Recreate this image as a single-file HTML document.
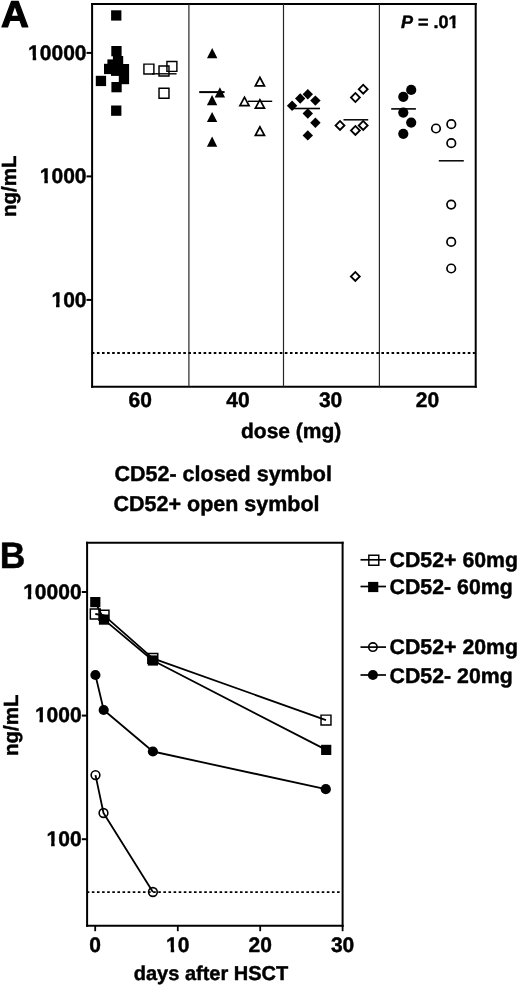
<!DOCTYPE html>
<html><head><meta charset="utf-8"><title>Figure</title>
<style>html,body{margin:0;padding:0;background:#fff;} body{width:520px;height:986px;overflow:hidden;font-family:"Liberation Sans",sans-serif;} svg{display:block;will-change:transform;} svg text{stroke:#000;stroke-width:0.45px;stroke-linejoin:round;}</style>
</head><body>
<svg xmlns="http://www.w3.org/2000/svg" width="520" height="986" viewBox="0 0 520 986" font-family="Liberation Sans, sans-serif" font-weight="bold" text-rendering="geometricPrecision" fill="#000"><line x1="92.10" y1="2.90" x2="92.10" y2="387.80" stroke="#000" stroke-width="2" />
<line x1="475.70" y1="2.90" x2="475.70" y2="387.80" stroke="#000" stroke-width="2" />
<line x1="91.10" y1="3.90" x2="476.70" y2="3.90" stroke="#000" stroke-width="2" />
<line x1="91.10" y1="386.80" x2="476.70" y2="386.80" stroke="#000" stroke-width="2" />
<rect x="188.30" y="3.90" width="1.20" height="382.90" fill="#262626"/>
<rect x="282.90" y="3.90" width="1.20" height="382.90" fill="#262626"/>
<rect x="378.80" y="3.90" width="1.20" height="382.90" fill="#262626"/>
<line x1="91.83" y1="352.95" x2="474.90" y2="352.95" stroke="#000" stroke-width="1.9" stroke-dasharray="2.6 2.48"/>
<line x1="86.50" y1="52.90" x2="92.10" y2="52.90" stroke="#000" stroke-width="2" />
<text x="86.5" y="59.9" font-size="21" text-anchor="end" >10000</text>
<line x1="86.50" y1="176.40" x2="92.10" y2="176.40" stroke="#000" stroke-width="2" />
<text x="86.5" y="183.4" font-size="21" text-anchor="end" >1000</text>
<line x1="86.50" y1="299.90" x2="92.10" y2="299.90" stroke="#000" stroke-width="2" />
<text x="86.5" y="306.9" font-size="21" text-anchor="end" >100</text>
<text x="140.3" y="406.7" font-size="21" text-anchor="middle" >60</text>
<text x="238" y="406.7" font-size="21" text-anchor="middle" >40</text>
<text x="330.6" y="406.7" font-size="21" text-anchor="middle" >30</text>
<text x="427.5" y="406.7" font-size="21" text-anchor="middle" >20</text>
<text x="291.2" y="438.3" font-size="21" text-anchor="middle" >dose (mg)</text>
<text x="0" y="0" font-size="20.5" text-anchor="middle" transform="translate(16.3,186.3) rotate(-90)">ng/mL</text>
<text x="0" y="0" font-size="37.4" style="stroke-width:1.2px" transform="translate(0.9,26.8) scale(1.03,1)">A</text>
<text x="401" y="28.3" font-size="18"><tspan font-style="italic">P</tspan> = .01</text>
<text x="114.5" y="481.2" font-size="21.5" text-anchor="start" >CD52- closed symbol</text>
<text x="113.5" y="511.0" font-size="21.5" text-anchor="start" >CD52+ open symbol</text>
<rect x="111.10" y="10.30" width="10.30" height="10.30" fill="#000"/>
<rect x="111.30" y="46.00" width="10.30" height="10.30" fill="#000"/>
<rect x="112.90" y="56.00" width="10.30" height="10.30" fill="#000"/>
<rect x="107.40" y="59.40" width="10.30" height="10.30" fill="#000"/>
<rect x="104.00" y="63.80" width="10.30" height="10.30" fill="#000"/>
<rect x="118.80" y="64.00" width="10.30" height="10.30" fill="#000"/>
<rect x="111.00" y="65.60" width="10.30" height="10.30" fill="#000"/>
<rect x="118.80" y="73.90" width="10.30" height="10.30" fill="#000"/>
<rect x="111.40" y="82.00" width="10.30" height="10.30" fill="#000"/>
<rect x="95.80" y="75.80" width="10.30" height="10.30" fill="#000"/>
<rect x="111.10" y="105.50" width="10.30" height="10.30" fill="#000"/>
<line x1="152.00" y1="73.80" x2="176.60" y2="73.80" stroke="#000" stroke-width="1.4" />
<path d="M143.20,63.40 L154.60,63.40 L154.60,74.80 L143.20,74.80Z M144.65,64.85 L153.15,64.85 L153.15,73.35 L144.65,73.35Z" fill="#000" fill-rule="evenodd"/>
<path d="M158.30,65.30 L169.70,65.30 L169.70,76.70 L158.30,76.70Z M159.75,66.75 L168.25,66.75 L168.25,75.25 L159.75,75.25Z" fill="#000" fill-rule="evenodd"/>
<path d="M166.20,60.70 L177.60,60.70 L177.60,72.10 L166.20,72.10Z M167.65,62.15 L176.15,62.15 L176.15,70.65 L167.65,70.65Z" fill="#000" fill-rule="evenodd"/>
<path d="M158.30,87.50 L169.70,87.50 L169.70,98.90 L158.30,98.90Z M159.75,88.95 L168.25,88.95 L168.25,97.45 L159.75,97.45Z" fill="#000" fill-rule="evenodd"/>
<line x1="199.20" y1="92.10" x2="224.60" y2="92.10" stroke="#000" stroke-width="2" />
<polygon points="212.20,48.10 217.40,58.30 207.00,58.30" fill="#000"/>
<polygon points="219.90,87.30 225.10,97.50 214.70,97.50" fill="#000"/>
<polygon points="212.10,95.00 217.30,105.20 206.90,105.20" fill="#000"/>
<polygon points="212.10,111.90 217.30,122.10 206.90,122.10" fill="#000"/>
<polygon points="212.10,136.50 217.30,146.70 206.90,146.70" fill="#000"/>
<line x1="248.00" y1="101.30" x2="272.20" y2="101.30" stroke="#000" stroke-width="1.4" />
<path d="M259.90,75.50 L265.90,86.70 L253.90,86.70Z M259.90,79.21 L262.98,84.95 L256.82,84.95Z" fill="#000" fill-rule="evenodd"/>
<path d="M244.50,95.40 L250.50,106.60 L238.50,106.60Z M244.50,99.11 L247.58,104.85 L241.42,104.85Z" fill="#000" fill-rule="evenodd"/>
<path d="M259.90,97.90 L265.90,109.10 L253.90,109.10Z M259.90,101.61 L262.98,107.35 L256.82,107.35Z" fill="#000" fill-rule="evenodd"/>
<path d="M259.90,125.00 L265.90,136.20 L253.90,136.20Z M259.90,128.71 L262.98,134.45 L256.82,134.45Z" fill="#000" fill-rule="evenodd"/>
<line x1="292.00" y1="108.50" x2="320.00" y2="108.50" stroke="#000" stroke-width="1.6" />
<polygon points="307.80,89.00 313.00,94.20 307.80,99.40 302.60,94.20" fill="#000"/>
<polygon points="300.20,93.30 305.40,98.50 300.20,103.70 295.00,98.50" fill="#000"/>
<polygon points="315.40,95.40 320.60,100.60 315.40,105.80 310.20,100.60" fill="#000"/>
<polygon points="292.10,100.60 297.30,105.80 292.10,111.00 286.90,105.80" fill="#000"/>
<polygon points="307.80,108.30 313.00,113.50 307.80,118.70 302.60,113.50" fill="#000"/>
<polygon points="315.40,117.50 320.60,122.70 315.40,127.90 310.20,122.70" fill="#000"/>
<polygon points="307.80,130.20 313.00,135.40 307.80,140.60 302.60,135.40" fill="#000"/>
<line x1="343.50" y1="119.80" x2="368.20" y2="119.80" stroke="#000" stroke-width="1.5" />
<path d="M363.20,83.45 L368.95,89.20 L363.20,94.95 L357.45,89.20Z M363.20,86.07 L366.33,89.20 L363.20,92.33 L360.07,89.20Z" fill="#000" fill-rule="evenodd"/>
<path d="M355.40,91.75 L361.15,97.50 L355.40,103.25 L349.65,97.50Z M355.40,94.37 L358.53,97.50 L355.40,100.63 L352.27,97.50Z" fill="#000" fill-rule="evenodd"/>
<path d="M340.00,119.65 L345.75,125.40 L340.00,131.15 L334.25,125.40Z M340.00,122.27 L343.13,125.40 L340.00,128.53 L336.87,125.40Z" fill="#000" fill-rule="evenodd"/>
<path d="M363.20,119.65 L368.95,125.40 L363.20,131.15 L357.45,125.40Z M363.20,122.27 L366.33,125.40 L363.20,128.53 L360.07,125.40Z" fill="#000" fill-rule="evenodd"/>
<path d="M355.40,124.65 L361.15,130.40 L355.40,136.15 L349.65,130.40Z M355.40,127.27 L358.53,130.40 L355.40,133.53 L352.27,130.40Z" fill="#000" fill-rule="evenodd"/>
<path d="M355.30,270.65 L361.05,276.40 L355.30,282.15 L349.55,276.40Z M355.30,273.27 L358.43,276.40 L355.30,279.53 L352.17,276.40Z" fill="#000" fill-rule="evenodd"/>
<line x1="391.20" y1="108.90" x2="415.90" y2="108.90" stroke="#000" stroke-width="1.6" />
<circle cx="411.20" cy="89.90" r="5.1" fill="#000"/>
<circle cx="403.30" cy="96.80" r="5.1" fill="#000"/>
<circle cx="403.30" cy="112.60" r="5.1" fill="#000"/>
<circle cx="411.20" cy="122.60" r="5.1" fill="#000"/>
<circle cx="403.30" cy="133.80" r="5.1" fill="#000"/>
<line x1="438.80" y1="160.80" x2="463.80" y2="160.80" stroke="#000" stroke-width="1.5" />
<circle cx="436.00" cy="128.50" r="4.25" fill="none" stroke="#000" stroke-width="1.7"/>
<circle cx="451.30" cy="124.20" r="4.25" fill="none" stroke="#000" stroke-width="1.7"/>
<circle cx="451.30" cy="143.20" r="4.25" fill="none" stroke="#000" stroke-width="1.7"/>
<circle cx="451.20" cy="204.60" r="4.25" fill="none" stroke="#000" stroke-width="1.7"/>
<circle cx="451.20" cy="241.90" r="4.25" fill="none" stroke="#000" stroke-width="1.7"/>
<circle cx="451.20" cy="268.50" r="4.25" fill="none" stroke="#000" stroke-width="1.7"/>
<line x1="87.10" y1="541.80" x2="87.10" y2="926.80" stroke="#000" stroke-width="2" />
<line x1="342.60" y1="541.80" x2="342.60" y2="926.80" stroke="#000" stroke-width="2" />
<line x1="86.10" y1="542.80" x2="343.60" y2="542.80" stroke="#000" stroke-width="2" />
<line x1="86.10" y1="925.80" x2="343.60" y2="925.80" stroke="#000" stroke-width="2" />
<line x1="86.74" y1="892.10" x2="341.80" y2="892.10" stroke="#000" stroke-width="1.9" stroke-dasharray="2.6 2.508"/>
<line x1="81.80" y1="592.00" x2="87.10" y2="592.00" stroke="#000" stroke-width="2" />
<text x="81.6" y="598.5" font-size="21" text-anchor="end" >10000</text>
<line x1="81.80" y1="715.60" x2="87.10" y2="715.60" stroke="#000" stroke-width="2" />
<text x="81.6" y="722.1" font-size="21" text-anchor="end" >1000</text>
<line x1="81.80" y1="839.20" x2="87.10" y2="839.20" stroke="#000" stroke-width="2" />
<text x="81.6" y="845.7" font-size="21" text-anchor="end" >100</text>
<line x1="95.20" y1="925.80" x2="95.20" y2="931.20" stroke="#000" stroke-width="1.8" />
<text x="95.2" y="951.6" font-size="21" text-anchor="middle" >0</text>
<line x1="177.80" y1="925.80" x2="177.80" y2="931.20" stroke="#000" stroke-width="1.8" />
<text x="177.8" y="951.6" font-size="21" text-anchor="middle" >10</text>
<line x1="260.20" y1="925.80" x2="260.20" y2="931.20" stroke="#000" stroke-width="1.8" />
<text x="260.2" y="951.6" font-size="21" text-anchor="middle" >20</text>
<line x1="342.60" y1="925.80" x2="342.60" y2="931.20" stroke="#000" stroke-width="1.8" />
<text x="342.6" y="951.6" font-size="21" text-anchor="middle" >30</text>
<text x="211" y="979.5" font-size="20" text-anchor="middle" >days after HSCT</text>
<text x="0" y="0" font-size="20.5" text-anchor="middle" transform="translate(18.1,725.2) rotate(-90)">ng/mL</text>
<text x="0" y="0" font-size="36.8" transform="translate(-0.2,568.0) scale(0.965,1)">B</text>
<polyline points="95.30,614.00 104.00,615.30 152.80,658.40 326.00,720.10" fill="none" stroke="#000" stroke-width="1.8" stroke-linejoin="round"/>
<polyline points="95.30,602.10 104.00,619.60 152.90,660.50 326.20,749.90" fill="none" stroke="#000" stroke-width="1.8" stroke-linejoin="round"/>
<polyline points="95.50,775.10 103.50,813.00 152.90,892.00" fill="none" stroke="#000" stroke-width="1.8" stroke-linejoin="round"/>
<polyline points="95.40,675.00 103.70,710.00 152.90,751.50 325.80,789.20" fill="none" stroke="#000" stroke-width="1.8" stroke-linejoin="round"/>
<path d="M89.60,608.30 L101.00,608.30 L101.00,619.70 L89.60,619.70Z M91.05,609.75 L99.55,609.75 L99.55,618.25 L91.05,618.25Z" fill="#000" fill-rule="evenodd"/>
<path d="M98.30,609.60 L109.70,609.60 L109.70,621.00 L98.30,621.00Z M99.75,611.05 L108.25,611.05 L108.25,619.55 L99.75,619.55Z" fill="#000" fill-rule="evenodd"/>
<path d="M147.10,652.70 L158.50,652.70 L158.50,664.10 L147.10,664.10Z M148.55,654.15 L157.05,654.15 L157.05,662.65 L148.55,662.65Z" fill="#000" fill-rule="evenodd"/>
<path d="M320.30,714.40 L331.70,714.40 L331.70,725.80 L320.30,725.80Z M321.75,715.85 L330.25,715.85 L330.25,724.35 L321.75,724.35Z" fill="#000" fill-rule="evenodd"/>
<rect x="90.20" y="597.00" width="10.20" height="10.20" fill="#000"/>
<rect x="98.90" y="614.50" width="10.20" height="10.20" fill="#000"/>
<rect x="147.80" y="655.40" width="10.20" height="10.20" fill="#000"/>
<rect x="321.10" y="744.80" width="10.20" height="10.20" fill="#000"/>
<circle cx="95.50" cy="775.10" r="4.35" fill="none" stroke="#000" stroke-width="1.6"/>
<circle cx="103.50" cy="813.00" r="4.35" fill="none" stroke="#000" stroke-width="1.6"/>
<circle cx="152.90" cy="892.00" r="4.35" fill="none" stroke="#000" stroke-width="1.6"/>
<circle cx="95.40" cy="675.00" r="5.1" fill="#000"/>
<circle cx="103.70" cy="710.00" r="5.1" fill="#000"/>
<circle cx="152.90" cy="751.50" r="5.1" fill="#000"/>
<circle cx="325.80" cy="789.20" r="5.1" fill="#000"/>
<line x1="360.50" y1="559.80" x2="386.00" y2="559.80" stroke="#000" stroke-width="1.7" />
<path d="M368.10,554.60 L379.50,554.60 L379.50,566.00 L368.10,566.00Z M369.55,556.05 L378.05,556.05 L378.05,564.55 L369.55,564.55Z" fill="#000" fill-rule="evenodd"/>
<text x="389.6" y="567.2" font-size="21.3" text-anchor="start" >CD52+ 60mg</text>
<line x1="360.50" y1="586.50" x2="386.00" y2="586.50" stroke="#000" stroke-width="1.7" />
<rect x="368.10" y="581.90" width="10.20" height="10.20" fill="#000"/>
<text x="389.6" y="593.5" font-size="21.3" text-anchor="start" >CD52- 60mg</text>
<line x1="360.50" y1="647.10" x2="386.00" y2="647.10" stroke="#000" stroke-width="1.7" />
<circle cx="372.90" cy="647.10" r="4.20" fill="none" stroke="#000" stroke-width="1.6"/>
<text x="389.6" y="653.9" font-size="21.3" text-anchor="start" >CD52+ 20mg</text>
<line x1="360.50" y1="675.00" x2="386.00" y2="675.00" stroke="#000" stroke-width="1.7" />
<circle cx="372.90" cy="675.00" r="5.0" fill="#000"/>
<text x="389.6" y="682.6" font-size="21.3" text-anchor="start" >CD52- 20mg</text><rect x="27.68" y="55.59" width="5.01" height="5.91" fill="#fff"/>
<rect x="36.18" y="55.59" width="4.22" height="5.91" fill="#fff"/>
<rect x="39.37" y="179.09" width="5.01" height="5.91" fill="#fff"/>
<rect x="47.86" y="179.09" width="4.22" height="5.91" fill="#fff"/>
<rect x="51.04" y="302.59" width="5.01" height="5.91" fill="#fff"/>
<rect x="59.54" y="302.59" width="4.22" height="5.91" fill="#fff"/>
<rect x="448.18" y="24.61" width="4.25" height="5.29" fill="#fff"/>
<rect x="455.50" y="24.61" width="3.58" height="5.29" fill="#fff"/>
<rect x="22.78" y="594.19" width="5.01" height="5.91" fill="#fff"/>
<rect x="31.28" y="594.19" width="4.22" height="5.91" fill="#fff"/>
<rect x="34.47" y="717.79" width="5.01" height="5.91" fill="#fff"/>
<rect x="42.96" y="717.79" width="4.22" height="5.91" fill="#fff"/>
<rect x="46.14" y="841.39" width="5.01" height="5.91" fill="#fff"/>
<rect x="54.64" y="841.39" width="4.22" height="5.91" fill="#fff"/>
<rect x="165.71" y="947.29" width="5.01" height="5.91" fill="#fff"/>
<rect x="174.20" y="947.29" width="4.22" height="5.91" fill="#fff"/></svg>
</body></html>
